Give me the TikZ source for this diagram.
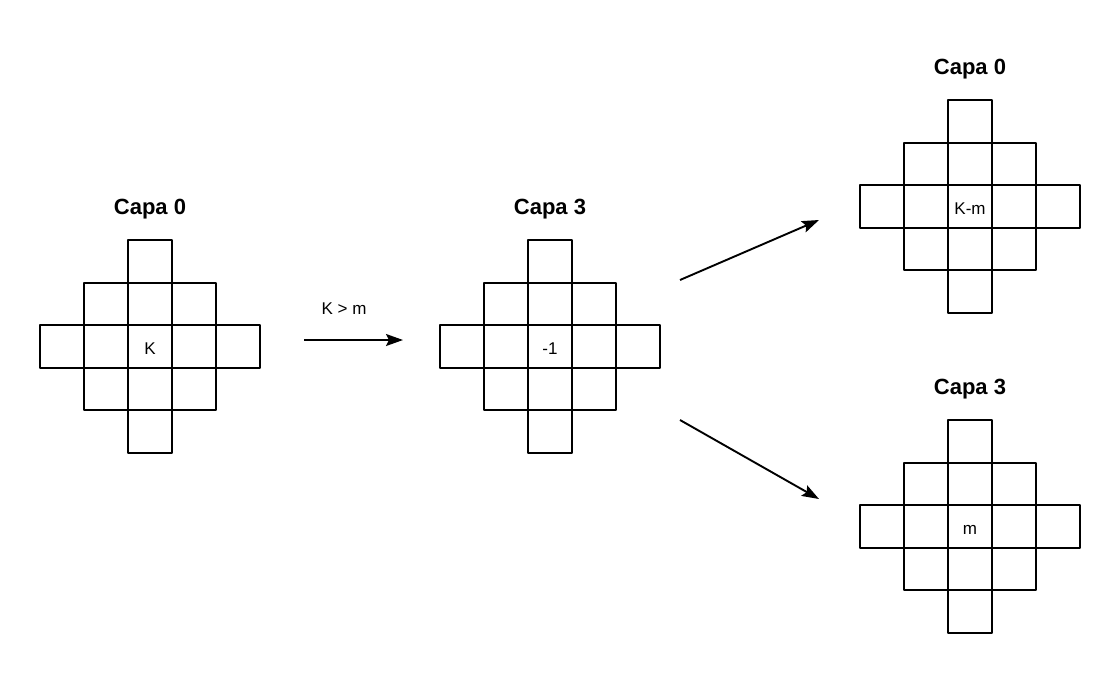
\documentclass[tikz,border=0pt]{standalone}
\usepackage{fontspec}
\setmainfont{Liberation Sans}
\usetikzlibrary{arrows.meta}
\tikzset{
	celda/.style={draw, line width=1.9pt, minimum width=44pt, minimum height=42.6pt, inner sep=0pt, text height=16pt, text depth=0pt, font=\fontsize{17}{19}\selectfont},
	capa/.style={font=\bfseries\fontsize{22}{25}\selectfont},
	flecha/.style={line width=1.9pt, -{Stealth[length=17pt,width=12pt,inset=3pt]}}
}
% rombo: nombre, x, y del centro, texto central
\newcommand{\rombo}[4]{%
	\foreach \i/\j in {0/-2,-1/-1,0/-1,1/-1,-2/0,-1/0,1/0,2/0,-1/1,0/1,1/1,0/2}
	\node[celda] (#1\i\j) at ({#2+44*\i},{#3+42.6*\j}) {};
	\node[celda] (#1) at (#2,#3) {#4};
}
\begin{document}
\begin{tikzpicture}[x=1pt, y=-1pt, line join=round]
	\useasboundingbox (0,0) rectangle (1120,673);
	\rombo{a}{150}{346.5}{K}
	\rombo{b}{550}{346.5}{-1}
	\rombo{c}{970}{206.5}{K-m}
	\rombo{d}{970}{526.5}{m}
	\foreach \x/\t in {a/Capa 0,b/Capa 3,c/Capa 0,d/Capa 3}
	\node[capa] (t\x) at ([yshift=29.5pt]\x0-2.north) {\t};
	\path (304,340) coordinate (P1)
	(403,340) coordinate (P2)
	(680,280) coordinate (P3)
	(819,220) coordinate (P4)
	(680,420) coordinate (P5)
	(819,499) coordinate (P6);
	\draw[flecha] (P1)--(P2);
	\node[font=\fontsize{17}{19}\selectfont] (cond) at (344,309) {K > m};
	\draw[flecha] (P3)--(P4);
	\draw[flecha] (P5)--(P6);
\end{tikzpicture}
\end{document}
